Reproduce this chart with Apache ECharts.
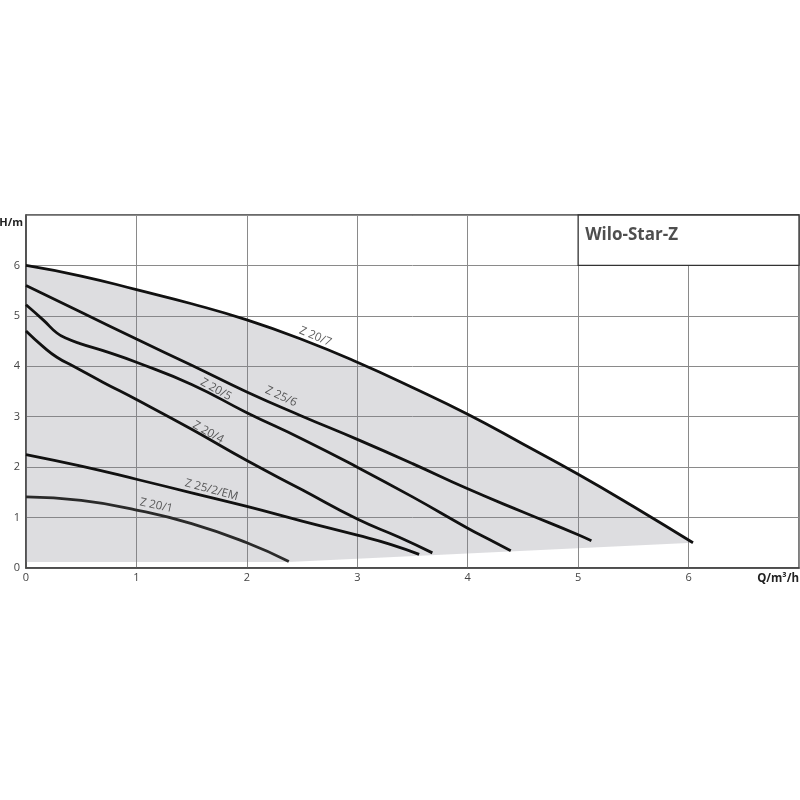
<!DOCTYPE html>
<html>
<head>
<meta charset="utf-8">
<script src="https://cdn.jsdelivr.net/npm/echarts@6/dist/echarts.min.js"></script>
<style>
html,body{margin:0;padding:0;background:#fff;}
#chart{width:800px;height:800px;}
</style>
</head>
<body>
<div id="chart"></div>
<script>
// ---- data (Q in m³/h, H in m) ----
const xTicks = [0, 1, 2, 3, 4, 5, 6];
const yTicks = [0, 1, 2, 3, 4, 5, 6];
const curveNames = ['Z 20/7', 'Z 25/6', 'Z 20/5', 'Z 20/4', 'Z 25/2/EM', 'Z 20/1'];
const z20_7 = [[0,6.0],[0.5,5.79],[1,5.52],[1.5,5.24],[2,4.92],[2.5,4.53],[3,4.08],[3.5,3.58],[4,3.05],[4.5,2.46],[5,1.86],[5.5,1.22],[6.04,0.5]];
const z25_6 = [[0,5.6],[0.5,5.07],[1,4.54],[1.5,4.02],[2,3.49],[2.5,3.01],[3,2.55],[3.5,2.07],[4,1.57],[4.5,1.11],[5,0.66],[5.12,0.54]];
const z20_5 = [[0,5.22],[0.16,4.91],[0.28,4.66],[0.37,4.55],[0.49,4.45],[0.74,4.28],[1,4.08],[1.5,3.64],[2,3.08],[2.5,2.56],[3,2.0],[3.5,1.41],[4,0.79],[4.2,0.56],[4.39,0.34]];
const z20_4 = [[0,4.7],[0.16,4.38],[0.28,4.18],[0.43,4.0],[0.7,3.68],[1,3.34],[1.5,2.75],[2,2.13],[2.5,1.55],[3,0.97],[3.38,0.61],[3.68,0.3]];
const z25_2em = [[0,2.25],[0.5,2.02],[1,1.76],[1.5,1.49],[2,1.22],[2.5,0.93],[3,0.65],[3.3,0.47],[3.56,0.27]];
const z20_1 = [[0,1.41],[0.5,1.34],[1,1.15],[1.5,0.88],[2,0.5],[2.38,0.13]];
const fillBottom = [[6.04,0.5],[2.38,0.12],[0,0.12]];
// curve label anchors [Q, H] and text angle
const labelAnchors = [[2.62,4.59],[2.31,3.40],[1.72,3.54],[1.65,2.69],[1.68,1.55],[1.18,1.24]];
const labelAngles = [-23, -25, -29, -29, -15, -12];
const titleText = 'Wilo-Star-Z';
const titleBox = [[5, 6], [7, 7]];

const curves = [z20_7, z25_6, z20_5, z20_4, z25_2em, z20_1];
const curveColors = ['#111', '#111', '#111', '#111', '#111', '#2a2a2a'];

const fillPolygon = z20_7.concat(fillBottom);

const chart = echarts.init(document.getElementById('chart'), null, {renderer: 'canvas'});

const FONT = '"Open Sans", "DejaVu Sans", sans-serif';

const series = [];
series.push({
  type: 'custom',
  name: 'area',
  z: 1,
  silent: true,
  data: [[0, 0]],
  renderItem: function (params, api) {
    const pts = fillPolygon.map(p => api.coord(p));
    return {
      type: 'polygon',
      shape: {points: pts, smooth: 0},
      style: {fill: 'rgba(128,131,140,0.27)', stroke: null}
    };
  }
});

curves.forEach((c, i) => {
  const s = {
    type: 'line',
    name: curveNames[i],
    data: c,
    smooth: 0.5,
    showSymbol: false,
    symbol: 'none',
    z: 3,
    lineStyle: {color: curveColors[i], width: 2.8},
    silent: true
  };
  if (i === 0) {
    s.markArea = {
      silent: true,
      itemStyle: {color: '#fff', borderColor: '#333', borderWidth: 1.3},
      label: {show: false},
      data: [[{coord: titleBox[0]}, {coord: titleBox[1]}]]
    };
  }
  series.push(s);
});

// title text anchored at the top-left corner of the box
series.push({
  type: 'scatter',
  z: 5,
  silent: true,
  symbolSize: 0,
  data: [{value: [titleBox[0][0], titleBox[1][1]]}],
  label: {
    show: true,
    position: 'insideTopLeft',
    formatter: titleText,
    offset: [2, 7],
    align: 'left',
    verticalAlign: 'top',
    color: '#222',
    fontFamily: FONT,
    fontWeight: 'bold',
    fontSize: 17
  }
});

series.push({
  type: 'scatter',
  z: 4,
  silent: true,
  symbolSize: 0,
  data: labelAnchors.map((p, i) => ({
    value: p,
    label: {rotate: labelAngles[i], formatter: curveNames[i]}
  })),
  label: {
    show: true,
    position: 'inside',
    color: '#333',
    fontFamily: FONT,
    fontSize: 11.5
  }
});

chart.setOption({
  animation: false,
  backgroundColor: '#fff',
  grid: {
    left: 26, right: 1, top: 215, bottom: 232,
    show: true, borderColor: '#3a3a3a', borderWidth: 1.3,
    containLabel: false,
    outerBoundsMode: 'none'
  },
  xAxis: {
    type: 'value',
    min: 0, max: 7, interval: 1,
    name: 'Q/m³/h',
    nameLocation: 'end',
    nameGap: 0,
    nameTextStyle: {
      align: 'right', verticalAlign: 'top', padding: [5, 0, 0, 0],
      fontFamily: FONT, fontWeight: 'bold', fontSize: 11.5, color: '#222'
    },
    axisLine: {show: true, lineStyle: {color: '#444', width: 1.5}},
    axisTick: {show: false},
    axisLabel: {
      margin: 4, fontFamily: FONT, fontSize: 11, color: '#444',
      formatter: v => xTicks.indexOf(v) >= 0 ? String(v) : ''
    },
    splitLine: {show: true, lineStyle: {color: '#8a8a8a', width: 1}}
  },
  yAxis: {
    type: 'value',
    min: 0, max: 7, interval: 1,
    name: 'H/m',
    nameLocation: 'end',
    nameGap: -8,
    nameTextStyle: {
      align: 'right', verticalAlign: 'middle', padding: [0, 3, 0, 0],
      fontFamily: FONT, fontWeight: 'bold', fontSize: 11, color: '#222'
    },
    axisLine: {show: true, lineStyle: {color: '#444', width: 1.5}},
    axisTick: {show: false},
    axisLabel: {
      margin: 6, fontFamily: FONT, fontSize: 11, color: '#444',
      formatter: v => yTicks.indexOf(v) >= 0 ? String(v) : ''
    },
    splitLine: {show: true, lineStyle: {color: '#8a8a8a', width: 1}}
  },
  series: series
});
</script>
</body>
</html>
